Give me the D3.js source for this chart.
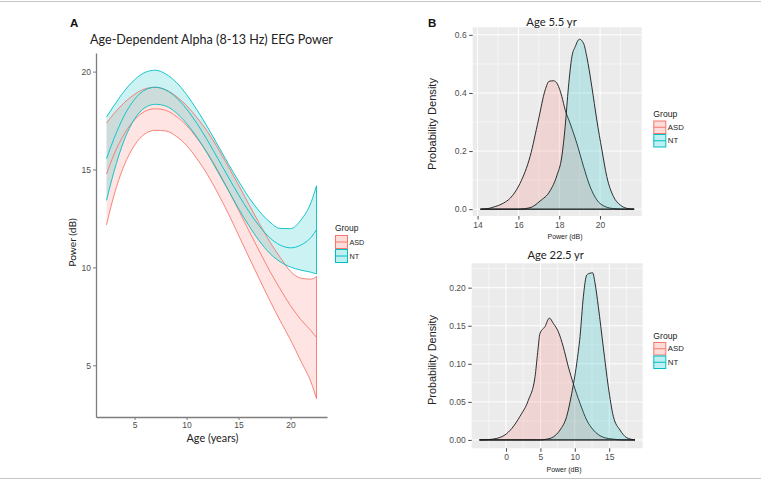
<!DOCTYPE html>
<html><head><meta charset="utf-8">
<script src="https://cdn.jsdelivr.net/npm/d3@7"></script>
<style>body{margin:0;background:#fff}svg{display:block}</style>
</head><body>
<svg id="c" width="761" height="480"></svg>
<script>
// ---------- Panel A data (polynomial fit with 95% CI) ----------
const ages     = [2.3,3,4,5,6,7,8,9,10,11,12,13,14,15,16,17,18,19,20,21,22,22.5];
const asdFit   = [14.77,15.74,16.81,17.54,17.97,18.1,18.02,17.72,17.25,16.6,15.85,14.95,13.97,12.93,11.87,10.83,9.82,8.9,8.05,7.33,6.75,6.42];
const asdUpper = [17.37,17.84,18.41,18.84,19.12,19.2,19.07,18.74,18.27,17.65,16.95,16.1,15.17,14.21,13.22,12.25,11.32,10.52,9.8,9.45,9.4,9.54];
const asdLower = [12.17,13.64,15.21,16.24,16.82,17.0,16.97,16.7,16.23,15.55,14.75,13.8,12.77,11.65,10.52,9.41,8.32,7.28,6.3,5.21,4.1,3.3];
const ntFit    = [15.55,16.55,17.75,18.58,19.06,19.2,19.06,18.68,18.09,17.35,16.5,15.57,14.63,13.71,12.85,12.11,11.52,11.14,11.0,11.14,11.55,11.92];
const ntUpper  = [17.68,18.25,19.0,19.58,19.96,20.07,19.88,19.46,18.83,18.05,17.18,16.25,15.31,14.41,13.57,12.87,12.32,11.99,11.98,12.42,13.35,14.17];
const ntLower  = [13.42,14.85,16.5,17.58,18.16,18.33,18.24,17.9,17.35,16.65,15.82,14.89,13.95,13.01,12.13,11.35,10.72,10.29,10.02,9.86,9.75,9.67];
const ticksA_x = [5,10,15,20];
const ticksA_y = [5,10,15,20];

// ---------- Panel B data (densities) ----------
const groups = ["ASD","NT"];
const b1AsdX = [14.14,14.5,14.77,15.27,15.6,16.08,16.57,16.98,17.31,17.5,17.72,17.91,18.13,18.29,18.53,18.86,19.19,19.51,19.84,20.25,20.66,21.2,21.67];
const b1AsdY = [0,0.002,0.007,0.021,0.038,0.089,0.181,0.307,0.41,0.44,0.442,0.431,0.387,0.342,0.296,0.227,0.147,0.078,0.032,0.009,0.002,0,0];
const b1NtX  = [14.14,16.0,16.57,17.06,17.55,17.88,18.13,18.29,18.45,18.62,18.78,18.99,19.19,19.35,19.6,19.84,20.09,20.33,20.66,20.98,21.3,21.67];
const b1NtY  = [0,0,0.005,0.028,0.063,0.115,0.183,0.284,0.42,0.525,0.559,0.585,0.571,0.525,0.42,0.307,0.204,0.112,0.043,0.015,0.003,0];
const b2AsdX = [-3.86,-2.5,-1.35,-0.15,0.83,2.03,3.24,4.22,4.6,4.94,5.67,6.3,6.88,7.61,8.33,9.06,9.78,10.76,11.73,12.7,14.14,15.6,17,18.74];
const b2AsdY = [0,0.0005,0.002,0.0066,0.015,0.031,0.052,0.083,0.115,0.14,0.149,0.16,0.153,0.142,0.122,0.096,0.074,0.048,0.026,0.013,0.0035,0.001,0,0];
const b2NtX  = [-3.86,5.0,5.91,6.88,7.85,8.82,9.55,10.27,10.76,11.24,11.73,12.21,12.6,12.94,13.42,14.14,14.87,15.6,16.57,17.54,18.74];
const b2NtY  = [0,0,0.001,0.004,0.013,0.031,0.061,0.1,0.136,0.188,0.2165,0.219,0.2195,0.206,0.175,0.122,0.07,0.031,0.013,0.003,0];
const b1TicksX = [14,16,18,20], b1MinorX = [15,17,19,21];
const b1TicksY = [0,0.2,0.4,0.6], b1MinorY = [0.1,0.3,0.5];
const b2TicksX = [0,5,10,15], b2MinorX = [-2.5,2.5,7.5,12.5,17.5];
const b2TicksY = [0,0.05,0.1,0.15,0.2], b2MinorY = [0.025,0.075,0.125,0.175,0.225];

const COL = {ASD:"#F8766D", NT:"#00BFC4"};
const SANS = "'Liberation Sans', Arial, sans-serif";
const HUM = "Lato, 'Open Sans', sans-serif";

const svg = d3.select("#c");

function fitText(sel, target){
  const w = sel.node().getComputedTextLength();
  const fs = parseFloat(sel.attr("font-size"));
  if (w > 0) sel.attr("font-size", (fs*target/w).toFixed(2));
  return sel;
}

// frame lines
svg.append("line").attr("x1",0).attr("x2",761).attr("y1",1.5).attr("y2",1.5).attr("stroke","#c4c4c4").attr("stroke-width",1);
svg.append("line").attr("x1",0).attr("x2",761).attr("y1",478.5).attr("y2",478.5).attr("stroke","#c4c4c4").attr("stroke-width",1);

// ================= Panel A =================
const xA = d3.scaleLinear().domain([1.29,23.51]).range([96,327]);
const yA = d3.scaleLinear().domain([2.36,20.95]).range([417,53]);
const gA = svg.append("g");

const bandsA = [
  {g:"ASD", fit:asdFit, lo:asdLower, hi:asdUpper},
  {g:"NT",  fit:ntFit,  lo:ntLower,  hi:ntUpper}
];
const areaA = d3.area().x(d=>xA(d.a)).y0(d=>yA(d.lo)).y1(d=>yA(d.hi)).curve(d3.curveMonotoneX);
const lineA = d3.line().x(d=>xA(d[0])).y(d=>yA(d[1])).curve(d3.curveMonotoneX);

bandsA.forEach(b=>{
  const rows = ages.map((a,i)=>({a, lo:b.lo[i], hi:b.hi[i]}));
  gA.append("path").attr("d", areaA(rows)).attr("fill", COL[b.g]).attr("fill-opacity",0.2).attr("stroke","none");
});
bandsA.forEach(b=>{
  [b.lo, b.hi, b.fit].forEach(arr=>{
    gA.append("path").attr("d", lineA(ages.map((a,i)=>[a,arr[i]])))
      .attr("fill","none").attr("stroke",COL[b.g]).attr("stroke-width",0.9);
  });
  const last = ages.length-1;
  gA.append("line").attr("x1",xA(ages[last])).attr("x2",xA(ages[last]))
    .attr("y1",yA(b.lo[last])).attr("y2",yA(b.hi[last]))
    .attr("stroke",COL[b.g]).attr("stroke-width",0.9);
});

const axYA = gA.append("g").attr("transform","translate(96,0)")
  .call(d3.axisLeft(yA).tickValues(ticksA_y).tickSize(3).tickSizeOuter(0).tickPadding(2));
const axXA = gA.append("g").attr("transform","translate(0,417)")
  .call(d3.axisBottom(xA).tickValues(ticksA_x).tickSize(3).tickSizeOuter(0).tickPadding(2));
[axYA, axXA].forEach(ax=>{
  ax.select(".domain").attr("stroke","#7d7d7d").attr("stroke-width",1.3);
  ax.selectAll(".tick line").attr("stroke","#7d7d7d").attr("stroke-width",1);
  ax.selectAll(".tick text").attr("fill","#4d4d4d").attr("font-size",8.5).attr("font-family",SANS);
});

gA.append("text").text("A").attr("x",70).attr("y",27).attr("font-family",SANS).attr("font-weight","bold").attr("font-size",11.5).attr("fill","#111");
fitText(gA.append("text").text("Age-Dependent Alpha (8-13 Hz) EEG Power").attr("x",211.5).attr("y",43.5)
  .attr("text-anchor","middle").attr("font-family",HUM).attr("font-size",13).attr("fill","#222"), 243);
fitText(gA.append("text").text("Power (dB)").attr("transform","translate(76,242.5) rotate(-90)")
  .attr("text-anchor","middle").attr("font-family",HUM).attr("font-size",11).attr("fill","#222"), 48.5);
fitText(gA.append("text").text("Age (years)").attr("x",212.5).attr("y",441.5)
  .attr("text-anchor","middle").attr("font-family",HUM).attr("font-size",11).attr("fill","#222"), 52);

function legend(g, x, yTitle, yKeys, keyH, fs){
  fitText(g.append("text").text("Group").attr("x",x).attr("y",yTitle).attr("font-family",SANS).attr("font-size",9).attr("fill","#222"), fs.title);
  groups.forEach((grp,i)=>{
    const y0 = yKeys + i*keyH;
    g.append("rect").attr("x",x+0.5).attr("y",y0+0.5).attr("width",12).attr("height",keyH-1)
      .attr("fill",COL[grp]).attr("fill-opacity",0.25).attr("stroke",COL[grp]).attr("stroke-width",1);
    g.append("line").attr("x1",x+0.5).attr("x2",x+12.5).attr("y1",y0+keyH/2).attr("y2",y0+keyH/2)
      .attr("stroke",COL[grp]).attr("stroke-width",1);
    g.append("text").text(grp).attr("x",x+14.5).attr("y",y0+keyH/2+2.6)
      .attr("font-family",SANS).attr("font-size",fs.lab).attr("fill","#222");
  });
}
legend(gA, 335, 231, 235, 14, {title:23.5, lab:7.2});

// ================= Panel B =================
function densityPanel(cfg){
  const g = svg.append("g");
  const x = d3.scaleLinear().domain(cfg.xd).range(cfg.xr);
  const y = d3.scaleLinear().domain(cfg.yd).range(cfg.yr);
  g.append("rect").attr("x",cfg.xr[0]).attr("y",cfg.yr[1]).attr("width",cfg.xr[1]-cfg.xr[0]).attr("height",cfg.yr[0]-cfg.yr[1]).attr("fill","#EBEBEB");
  cfg.minorX.forEach(v=>g.append("line").attr("x1",x(v)).attr("x2",x(v)).attr("y1",cfg.yr[0]).attr("y2",cfg.yr[1]).attr("stroke","#fff").attr("stroke-width",0.5));
  cfg.minorY.forEach(v=>g.append("line").attr("y1",y(v)).attr("y2",y(v)).attr("x1",cfg.xr[0]).attr("x2",cfg.xr[1]).attr("stroke","#fff").attr("stroke-width",0.5));
  cfg.ticksX.forEach(v=>g.append("line").attr("x1",x(v)).attr("x2",x(v)).attr("y1",cfg.yr[0]).attr("y2",cfg.yr[1]).attr("stroke","#fff").attr("stroke-width",1));
  cfg.ticksY.forEach(v=>g.append("line").attr("y1",y(v)).attr("y2",y(v)).attr("x1",cfg.xr[0]).attr("x2",cfg.xr[1]).attr("stroke","#fff").attr("stroke-width",1));
  const area = d3.area().x(d=>x(d[0])).y0(y(0)).y1(d=>y(d[1])).curve(d3.curveMonotoneX);
  cfg.series.forEach(s=>{
    const pts = s.xs.map((v,i)=>[v, s.ys[i]]);
    g.append("path").attr("d",area(pts)).attr("fill",COL[s.g]).attr("fill-opacity",0.2)
      .attr("stroke","#1a1a1a").attr("stroke-width",0.9).attr("stroke-linejoin","round");
  });
  const ax = g.append("g").attr("transform",`translate(${cfg.xr[0]},0)`)
    .call(d3.axisLeft(y).tickValues(cfg.ticksY).tickFormat(d3.format(cfg.fmtY)).tickSize(3.5).tickSizeOuter(0).tickPadding(2.5));
  const bx = g.append("g").attr("transform",`translate(0,${cfg.yr[0]})`)
    .call(d3.axisBottom(x).tickValues(cfg.ticksX).tickFormat(d3.format("d")).tickSize(3.5).tickSizeOuter(0).tickPadding(2));
  [ax,bx].forEach(a=>{
    a.select(".domain").remove();
    a.selectAll(".tick line").attr("stroke","#333").attr("stroke-width",0.9);
    a.selectAll(".tick text").attr("fill","#4d4d4d").attr("font-size",8.5).attr("font-family",SANS);
  });
  fitText(g.append("text").text(cfg.title).attr("x",cfg.titleX).attr("y",cfg.titleY).attr("text-anchor","middle")
    .attr("font-family",HUM).attr("font-size",12).attr("fill","#222"), cfg.titleW);
  fitText(g.append("text").text("Probability Density").attr("transform",`translate(436,${cfg.ylabY}) rotate(-90)`)
    .attr("text-anchor","middle").attr("font-family",SANS).attr("font-size",11).attr("fill","#222"), cfg.ylabW);
  fitText(g.append("text").text("Power (dB)").attr("x",cfg.xlabX).attr("y",cfg.xlabY).attr("text-anchor","middle")
    .attr("font-family",SANS).attr("font-size",9).attr("fill","#222"), 35);
  legend(g, 653.3, cfg.legTitleY, cfg.legKeysY, 13.5, {title:24, lab:7.8});
  return g;
}

densityPanel({
  xd:[13.76,22.04], xr:[472.7,641.7], yd:[-0.0235,0.626], yr:[216,27.3],
  ticksX:b1TicksX, minorX:b1MinorX, ticksY:b1TicksY, minorY:b1MinorY, fmtY:".1f",
  series:[{g:"ASD", xs:b1AsdX, ys:b1AsdY},{g:"NT", xs:b1NtX, ys:b1NtY}],
  title:"Age 5.5 yr", titleX:551.5, titleY:26, titleW:50.5,
  ylabY:124, ylabW:92, xlabX:565, xlabY:238.5,
  legTitleY:117, legKeysY:120.5
});
densityPanel({
  xd:[-4.99,19.87], xr:[471.7,642.7], yd:[-0.011,0.232], yr:[448.3,263.3],
  ticksX:b2TicksX, minorX:b2MinorX, ticksY:b2TicksY, minorY:b2MinorY, fmtY:".2f",
  series:[{g:"ASD", xs:b2AsdX, ys:b2AsdY},{g:"NT", xs:b2NtX, ys:b2NtY}],
  title:"Age 22.5 yr", titleX:555.7, titleY:259.3, titleW:56.5,
  ylabY:360, ylabW:90, xlabX:564, xlabY:472,
  legTitleY:338.5, legKeysY:342
});

svg.append("text").text("B").attr("x",428).attr("y",27).attr("font-family",SANS).attr("font-weight","bold").attr("font-size",11.5).attr("fill","#111");
</script></body></html>
